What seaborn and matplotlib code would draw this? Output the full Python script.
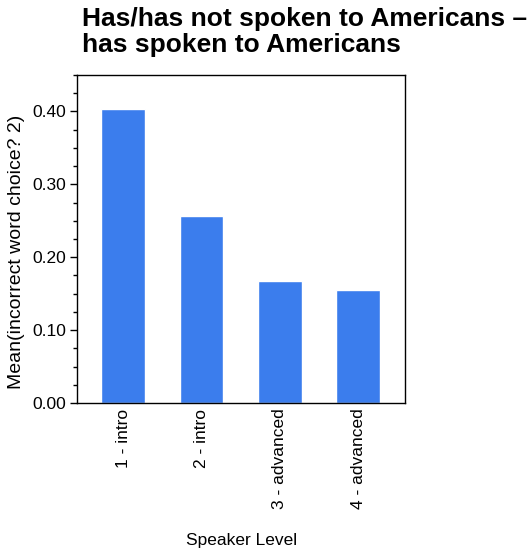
import matplotlib
matplotlib.use("Agg")
import matplotlib.pyplot as plt
from matplotlib.ticker import MultipleLocator, FormatStrFormatter
import seaborn as sns

levels = ["1 - intro", "2 - intro", "3 - advanced", "4 - advanced"]
means = [0.404, 0.257, 0.168, 0.155]

sns.set_style("ticks")
plt.rcParams["font.family"] = ["Liberation Sans", "DejaVu Sans"]
plt.rcParams["text.color"] = "black"
plt.rcParams["axes.labelcolor"] = "black"
plt.rcParams["xtick.color"] = "black"
plt.rcParams["ytick.color"] = "black"

fig = plt.figure(figsize=(5.32, 5.54), dpi=100)
ax = fig.add_axes([77 / 532, 1 - 403 / 554, 328 / 532, 328 / 554])

sns.barplot(x=levels, y=means, color="#3b7ded", saturation=1, width=0.56, ax=ax)

ax.set_xlim(-0.59, 3.6)
ax.set_ylim(0, 0.45)
ax.yaxis.set_major_locator(MultipleLocator(0.1))
ax.yaxis.set_minor_locator(MultipleLocator(0.025))
ax.yaxis.set_major_formatter(FormatStrFormatter("%.2f"))
ax.tick_params(axis="y", which="major", length=5, width=1, labelsize=12.5, pad=3)
ax.tick_params(axis="y", which="minor", length=3, width=1)
ax.tick_params(axis="x", length=0, labelsize=12.5, rotation=90, pad=4)
for s in ax.spines.values():
    s.set_visible(True)
    s.set_color("black")
    s.set_linewidth(1)

ax.set_ylabel("Mean(incorrect word choice? 2)", fontsize=14, va="center")
ax.yaxis.set_label_coords(-0.183, 0.46)
ax.set_xlabel("")
fig.text(242 / 532, 1 - 541 / 554, "Speaker Level", ha="center", va="center", fontsize=12.5)
fig.text(82 / 532, 1 - 7 / 554, "Has/has not spoken to Americans \u2013\nhas spoken to Americans",
         ha="left", va="top", fontsize=19, fontweight="bold", linespacing=1.1)

fig.savefig("out.png", dpi=100)
